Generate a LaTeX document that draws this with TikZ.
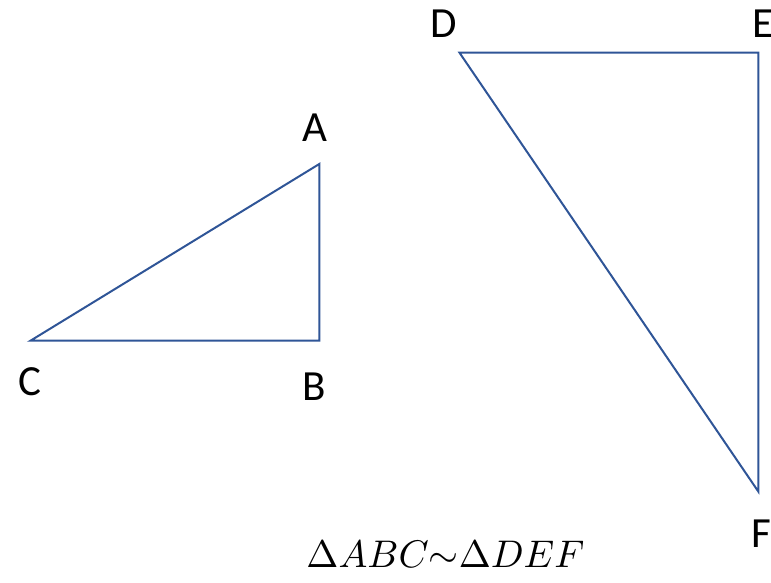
\documentclass[tikz,border=0pt]{standalone}
\usepackage{graphicx}
\usepackage{fontspec}
\setmainfont{Carlito}
\begin{document}
\begin{tikzpicture}[x=1pt,y=-1pt,
  tri/.style={draw={rgb,255:red,47;green,85;blue,151}, line width=2pt, line join=miter},
  lbl/.style={inner sep=0pt, font=\fontsize{43}{50}\selectfont}]
\useasboundingbox (0,0) rectangle (771,583);
% triangle ABC
\coordinate (A) at (319.3,164);
\coordinate (B) at (319.3,340.7);
\coordinate (C) at (30.5,340.7);
\draw[tri] (A) -- (B) -- (C) -- cycle;
% triangle DEF
\coordinate (D) at (459.5,52.7);
\coordinate (E) at (758.3,52.7);
\coordinate (F) at (758.3,491.5);
\draw[tri] (D) -- (E) -- (F) -- cycle;
% labels
\node[lbl, anchor=base] (lA) at (314.5,142) {A};
\node[lbl, anchor=base] (lB) at (314,400) {B};
\node[lbl, anchor=base] (lC) at (30,395) {C};
\node[lbl, anchor=base] (lD) at (443.5,37.5) {D};
\node[lbl, anchor=base west] (lE) at (752,37.5) {E};
\node[lbl, anchor=base west] (lF) at (751,547) {F};
% relation
\node[inner sep=0pt, anchor=base] (rel) at (445.5,567) {\scalebox{3.85}{$\Delta ABC{\sim}\Delta DEF$}};
\end{tikzpicture}
\end{document}
